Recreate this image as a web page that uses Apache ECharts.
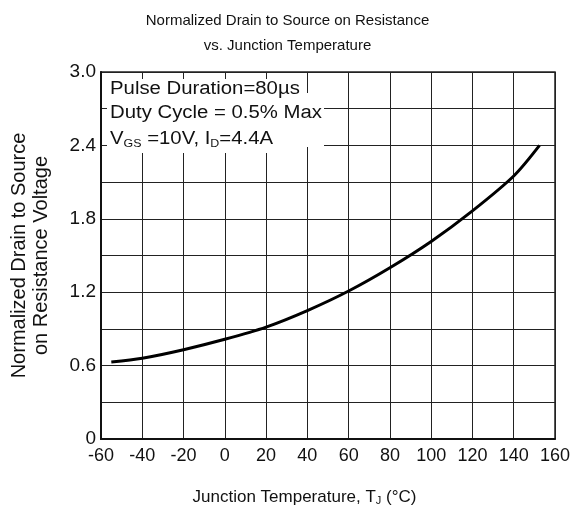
<!DOCTYPE html>
<html>
<head>
<meta charset="utf-8">
<script src="https://cdn.jsdelivr.net/npm/echarts@6/dist/echarts.min.js"></script>
<style>html,body{margin:0;padding:0;background:#fff}#c{width:575px;height:517px}</style>
</head>
<body>
<div id="c"></div>
<script>
// Data
const temperatures = [-55, -40, -20, 0, 20, 40, 60, 80, 100, 120, 140, 152.5];
const rdsNormalized = [0.63, 0.66, 0.73, 0.815, 0.915, 1.05, 1.21, 1.40, 1.615, 1.865, 2.15, 2.40];
const xTicks = [-60, -40, -20, 0, 20, 40, 60, 80, 100, 120, 140, 160];
const yTickLabels = ['0', '0.6', '1.2', '1.8', '2.4', '3.0'];
const annotationLines = ['Pulse Duration=80µs', 'Duty Cycle = 0.5% Max', 'V{sub|GS} =10V, I{sub|D}=4.4A'];

const FONT = '"Liberation Sans", Arial, Helvetica, sans-serif';
const chart = echarts.init(document.getElementById('c'), null, {renderer: 'canvas'});

const seriesData = temperatures.map((t, i) => [t, rdsNormalized[i]]);

const annText = annotationLines.map((txt, i) => ({
  type: 'text',
  x: 110,
  y: [89, 113, 139][i],
  scaleX: 1.13,
  style: {
    text: txt,
    font: '18px ' + FONT,
    fill: '#111',
    verticalAlign: 'middle',
    align: 'left',
    rich: {
      sub: {fontSize: 11, fontFamily: FONT, fill: '#111', padding: [9, 0, 0, 0]}
    }
  },
  z: 101
}));

chart.setOption({
  animation: false,
  backgroundColor: '#fff',
  title: {
    text: 'Normalized Drain to Source on Resistance\nvs. Junction Temperature',
    left: 'center',
    top: 3,
    textStyle: {fontFamily: FONT, fontSize: 15, fontWeight: 'normal', color: '#111', lineHeight: 25}
  },
  grid: {left: 100, right: 20, top: 72, bottom: 78, show: true, borderColor: '#222', borderWidth: 1.5, backgroundColor: 'transparent'},
  xAxis: {
    type: 'value', min: xTicks[0], max: xTicks[xTicks.length - 1], interval: 20,
    name: 'Junction Temperature, T{sub|J} (°C)',
    nameLocation: 'middle', nameGap: 49,
    nameTextStyle: {fontFamily: FONT, fontSize: 17, color: '#111', padding: [0, 47, 0, 0],
      rich: {sub: {fontSize: 11, fontFamily: FONT, color: '#111', padding: [7, 0, 0, 0]}}},
    axisLine: {show: true, onZero: false, lineStyle: {color: '#111', width: 2}},
    axisTick: {show: false},
    axisLabel: {fontFamily: FONT, fontSize: 18, color: '#111', margin: 8,
      formatter: v => xTicks.includes(Math.round(v)) ? String(Math.round(v)) : ''},
    splitLine: {show: true, lineStyle: {color: '#222', width: 1}}
  },
  yAxis: {
    type: 'value', min: 0, max: 3, interval: 0.3,
    name: 'Normalized Drain to Source\non Resistance Voltage',
    nameLocation: 'middle', nameGap: 49,
    nameTextStyle: {fontFamily: FONT, fontSize: 20, color: '#111', lineHeight: 22, align: 'center'},
    axisLine: {show: true, onZero: false, lineStyle: {color: '#111', width: 2}},
    axisTick: {show: false},
    axisLabel: {fontFamily: FONT, fontSize: 19, color: '#111', margin: 5,
      formatter: v => { const k = Math.round(v / 0.3); return k % 2 ? '' : yTickLabels[k / 2]; }},
    splitLine: {show: true, lineStyle: {color: '#222', width: 1}}
  },
  series: [{
    type: 'line',
    data: seriesData,
    smooth: 0.3,
    showSymbol: false,
    lineStyle: {color: '#000', width: 3},
    z: 5
  }],
  graphic: [
    {type: 'rect', shape: {x: 107, y: 79, width: 197, height: 74}, style: {fill: '#fff'}, z: 100},
    {type: 'rect', shape: {x: 304, y: 93, width: 20, height: 54}, style: {fill: '#fff'}, z: 100}
  ].concat(annText)
});
</script>
</body>
</html>
